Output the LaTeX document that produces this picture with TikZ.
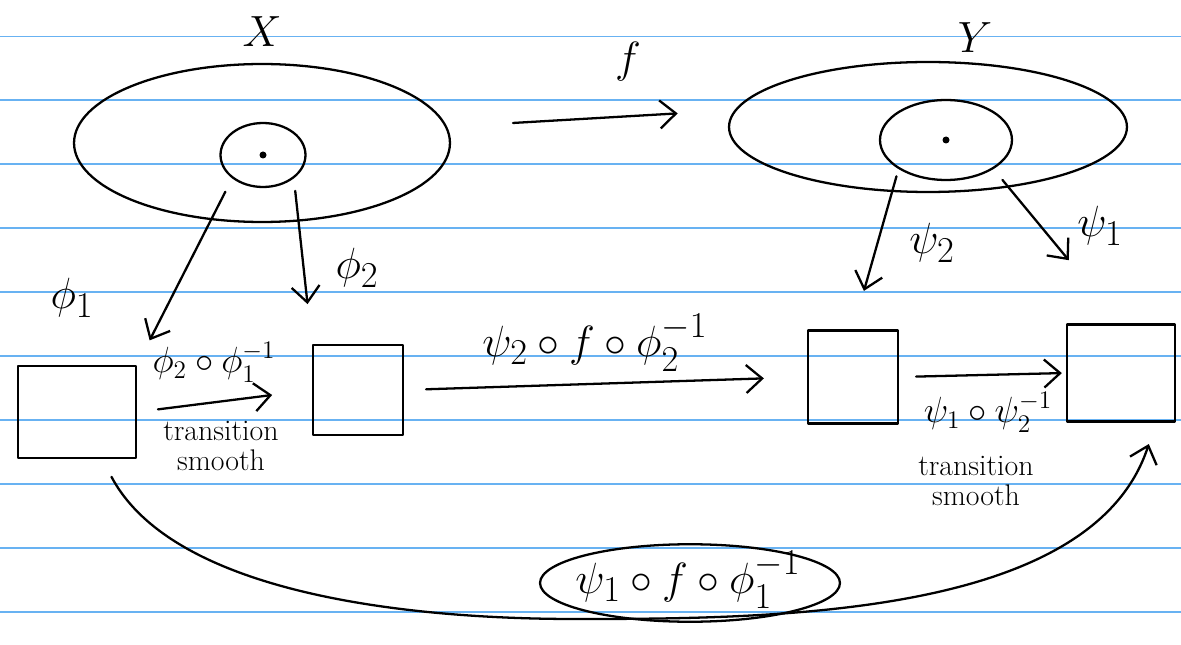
\documentclass[tikz,border=0pt]{standalone}
\usepackage{amsmath,amssymb}
\usepackage{tikz}
\usetikzlibrary{arrows.meta,shapes.geometric,positioning}
\definecolor{ruleblue}{RGB}{104,178,242}
\tikzset{
  ink/.style={black,line width=1.3pt,line cap=round,line join=round},
  flow/.style={ink,-{Straight Barb[length=3.2mm,width=5.6mm]}},
  paper/.style={ruleblue,line width=1.1pt},
  chart/.style={draw,ink,rectangle,inner sep=0pt},
  space/.style={draw,ink,ellipse,inner sep=0pt},
  point/.style={circle,fill=black,inner sep=0pt,minimum size=1.4mm},
  lab/.style={font=\Huge},
  sublab/.style={font=\huge},
  note/.style={font={\fontsize{17}{17}\selectfont},align=center,inner sep=0pt},
}

\begin{document}
\begin{tikzpicture}[x=0.02cm,y=-0.02cm]
  \path[use as bounding box,fill=white] (0,0) rectangle (1181,645);
  % ruled paper
  \foreach \k in {0,...,9}
    \draw[paper] (0,{36.5+63.9*\k}) -- (1181,{36.5+63.9*\k});

  % the two spaces
  \node[space,minimum width=7.52cm,minimum height=3.16cm] (X) at (262,143) {};
  \node[space,minimum width=1.70cm,minimum height=1.28cm] (Ux) at (263,155) {};
  \node[point] (px) at (Ux.center) {};
  \node[lab] (Xlab) at (262,32) {$X$};

  \node[space,minimum width=7.96cm,minimum height=2.60cm] (Y) at (928,127) {};
  \node[space,minimum width=2.64cm,minimum height=1.60cm] (Uy) at (946,140) {};
  \node[point] (py) at (Uy.center) {};
  \node[lab] (Ylab) at (975,38) {$Y$};

  \draw[flow,shorten <=1.32cm,shorten >=1.14cm] (X.5) -- (Y.175);
  \node[lab] (flab) at (628,62) {$f$};

  % charts
  \node[chart,minimum width=2.36cm,minimum height=1.84cm] (B1) at (77,412) {};
  \node[chart,minimum width=1.80cm,minimum height=1.80cm] (B2) at (358,390) {};
  \node[chart,minimum width=1.80cm,minimum height=1.86cm] (B3) at (853,377) {};
  \node[chart,minimum width=2.16cm,minimum height=1.94cm] (B4) at (1121,373) {};

  % coordinate maps
  \draw[flow,shorten <=0.3cm,shorten >=0.55cm] (Ux.south west) -- (B1.north east);
  \node[lab] (phi1) at (72,298) {$\phi_1$};
  \draw[flow,shorten <=0.25cm,shorten >=0.8cm] (Ux.south east) -- (B2.north west);
  \node[lab] (phi2) at (357,268) {$\phi_2$};
  \draw[flow,shorten <=0.15cm,shorten >=0.8cm] (Uy.south west) -- (B3.north);
  \node[lab] (psi2) at (932,243) {$\psi_2$};
  \draw[flow,shorten <=0.28cm,shorten >=1.64cm] (Uy.south east) -- (B4.north);
  \node[lab] (psi1) at (1100,226) {$\psi_1$};

  % transitions between charts
  \draw[flow,shorten <=0.42cm,shorten >=0.8cm] (B1.east) -- (B2.west);
  \node[sublab] (t12) at (214,362) {$\phi_2\circ\phi_1^{-1}$};
  \node[note] (s12) at (221,446) {transition\\smooth};
  \draw[flow,shorten <=0.44cm,shorten >=0.86cm] (B2.east) -- (B3.west);
  \node[lab] (t23) at (595,343) {$\psi_2\circ f\circ\phi_2^{-1}$};
  \draw[flow,shorten <=0.34cm,shorten >=0.08cm] (B3.east) -- (B4.west);
  \node[sublab] (t34) at (988,412) {$\psi_1\circ\psi_2^{-1}$};
  \node[note] (s34) at (976,481) {transition\\smooth};

  % the long way round
  \coordinate (dip) at (575,619);
  \draw[flow,shorten <=0.4cm,shorten >=0.45cm]
    (B1.-62) to[out=-62,in=180,looseness=0.8] (dip)
             to[out=0,in=-108,looseness=0.85] (B4.-55);
  \node[lab] (t14) at (688,580) {$\psi_1\circ f\circ\phi_1^{-1}$};
  \node[space,minimum width=6.0cm,minimum height=1.55cm] (ring) at (690,583) {};
\end{tikzpicture}
\end{document}
